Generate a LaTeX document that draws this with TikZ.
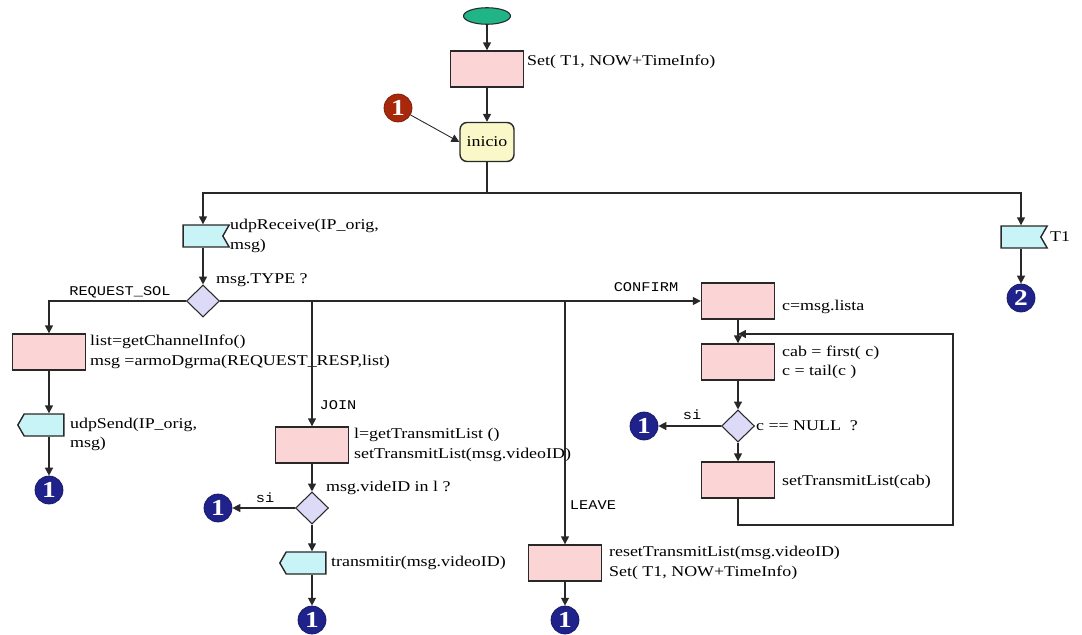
\documentclass[tikz,border=0pt]{standalone}
\usepackage{fontspec}
\setmainfont{Liberation Serif}[FakeStretch=1.2]
\newfontfamily\tagfont{Liberation Mono}[FakeStretch=1.15]
\usetikzlibrary{positioning, arrows.meta, shapes.geometric, shapes.symbols, calc}

\definecolor{procfill}{RGB}{251,213,213}
\definecolor{askfill}{RGB}{220,218,246}
\definecolor{sigfill}{RGB}{200,244,248}
\definecolor{startfill}{RGB}{32,180,135}
\definecolor{initfill}{RGB}{250,248,200}
\definecolor{jumpblue}{RGB}{32,34,140}
\definecolor{jumpred}{RGB}{168,40,12}
\definecolor{edge}{RGB}{40,40,40}

\begin{document}
\begin{tikzpicture}[
        x=0.02cm, y=-0.02cm,
        every node/.style={font=\fontsize{8.5}{11}\selectfont},
        proc/.style={draw=edge, line width=0.8pt, fill=procfill, minimum width=1.46cm, minimum height=0.72cm, inner sep=0pt},
        decide/.style={diamond, draw=edge, line width=0.6pt, fill=askfill, minimum width=0.66cm, minimum height=0.64cm, inner sep=0pt},
        recv/.style={signal, signal from=east, signal to=nowhere, signal pointer angle=120, draw=edge, line width=0.8pt, fill=sigfill, minimum width=0.92cm, minimum height=0.44cm, inner sep=0pt},
        send/.style={signal, signal to=west, signal from=nowhere, signal pointer angle=120, draw=edge, line width=0.8pt, fill=sigfill, minimum width=0.92cm, minimum height=0.44cm, inner sep=0pt},
        jump/.style={circle, fill=jumpblue, draw=jumpblue!70!black, minimum size=0.56cm, inner sep=0pt, text=white, font=\fontsize{13}{13}\bfseries\selectfont},
        arrow/.style={-{Triangle[length=4.5pt,width=4.5pt]}, line width=0.8pt, draw=edge},
        line/.style={line width=0.8pt, draw=edge},
        txt/.style={align=left, inner sep=1pt},
        tag/.style={font=\tagfont\fontsize{7.6}{9}\selectfont, inner sep=1pt}
    ]
    \useasboundingbox (0,0) rectangle (1082,635);

    % Start
    \node[ellipse, draw=edge, line width=0.6pt, fill=startfill, minimum width=0.94cm, minimum height=0.32cm] (start) at (487,16) {};
    \node[proc] (settimer) at (487,69) {};
    \node[txt, anchor=west] (settimerlbl) at (525,62) {Set( T1, NOW+TimeInfo)};
    \node[draw=edge, line width=0.8pt, fill=initfill, rounded corners=4pt, minimum width=1.08cm, minimum height=0.78cm, inner sep=0pt] (inicio) at (487,142) {inicio};
    \node[jump, fill=jumpred, draw=jumpred!70!black] (back1) at (398,108) {1};

    % Inputs
    \node[recv] (rcv) at (203,236) {};
    \node[txt, anchor=west] (rcvlbl) at (228,236) {udpReceive(IP\_orig,\\msg)};
    \node[recv] (timeout) at (1021,237) {};
    \node[txt, anchor=west] (timeoutlbl) at (1048,237) {T1};
    \node[jump] (jmp2) at (1021,298) {2};

    % Message type
    \node[decide] (typechk) at (203,301) {};
    \node[txt, anchor=west] (typechklbl) at (214,280) {msg.TYPE ?};
    \node[tag] (reqtag) at (120,292) {REQUEST\_SOL};
    \node[tag] (jointag) at (338,405) {JOIN};
    \node[tag] (leavetag) at (593,505) {LEAVE};
    \node[tag] (conftag) at (646,287) {CONFIRM};

    % REQUEST_SOL
    \node[proc] (chaninfo) at (49,352) {};
    \node[txt, anchor=west] (chaninfolbl) at (88,352) {list=getChannelInfo()\\msg =armoDgrma(REQUEST\_RESP,list)};
    \node[send] (udpsend) at (44,425) {};
    \node[txt, anchor=north west] (udpsendlbl) at (68,416) {udpSend(IP\_orig,\\msg)};
    \node[jump] (jmpA) at (49,490) {1};

    % JOIN
    \node[proc] (gettx) at (312,445) {};
    \node[txt, anchor=west] (gettxlbl) at (352,445) {l=getTransmitList ()\\setTransmitList(msg.videoID)};
    \node[decide] (vidchk) at (312,508) {};
    \node[txt, anchor=west] (vidchklbl) at (324,488) {msg.videID in l ?};
    \node[jump] (jmpB) at (218,508) {1};
    \node[tag] (sitagB) at (265,498) {si};
    \node[send] (xmit) at (306,563) {};
    \node[txt, anchor=west] (xmitlbl) at (329,563) {transmitir(msg.videoID)};
    \node[jump] (jmpC) at (312,620) {1};

    % LEAVE
    \node[proc] (resettx) at (565,563) {};
    \node[txt, anchor=west] (resettxlbl) at (607,563) {resetTransmitList(msg.videoID)\\Set( T1, NOW+TimeInfo)};
    \node[jump] (jmpD) at (565,620) {1};

    % CONFIRM
    \node[proc] (takelist) at (738,301) {};
    \node[txt, anchor=west] (takelistlbl) at (780,307) {c=msg.lista};
    \node[proc] (nextitem) at (738,362) {};
    \node[txt, anchor=west] (nextitemlbl) at (780,362) {cab = first( c)\\c = tail(c )};
    \node[decide] (nullchk) at (738,426) {};
    \node[txt, anchor=west] (nullchklbl) at (754,426) {c == NULL\ \ ?};
    \node[jump] (jmpE) at (644,426) {1};
    \node[tag] (sitagE) at (692,415) {si};
    \node[proc] (setcab) at (738,480) {};
    \node[txt, anchor=west] (setcablbl) at (780,482) {setTransmitList(cab)};

    % Connectors
    \draw[arrow] (start) -- (settimer);
    \draw[arrow] (settimer) -- (inicio);
    \draw[arrow, line width=0.5pt] (back1) -- (inicio.west);
    \coordinate (split) at (487,193);
    \draw[line] (inicio.south) -- (split);
    \draw[arrow] (split) -| (rcv.north);
    \draw[arrow] (split) -| (timeout.north);
    \draw[arrow] (timeout) -- (jmp2);
    \draw[arrow] (rcv) -- (typechk);

    \draw[arrow] (typechk.west) -| (chaninfo.north);
    \draw[arrow] (typechk.east) -- (takelist.west);
    \draw[arrow] (gettx.north |- typechk.east) -- (gettx.north);
    \draw[arrow] (resettx.north |- typechk.east) -- (resettx.north);

    \draw[arrow] (chaninfo) -- (chaninfo.south |- udpsend.north);
    \draw[arrow] (chaninfo.south |- udpsend.south) -- (jmpA);

    \draw[arrow] (gettx) -- (vidchk);
    \draw[arrow] (vidchk) -- (jmpB);
    \draw[arrow] (vidchk.south) -- (vidchk.south |- xmit.north);
    \draw[arrow] (vidchk.south |- xmit.south) -- (jmpC);

    \draw[arrow] (resettx) -- (jmpD);

    \draw[arrow] (takelist) -- (nextitem);
    \draw[arrow] (nextitem) -- (nullchk);
    \draw[arrow] (nullchk) -- (jmpE);
    \draw[arrow] (nullchk) -- (setcab);
    \coordinate (loopin) at (738,334);
    \coordinate (loopturn) at (953,525);
    \draw[arrow] (setcab.south) |- (loopturn) |- (loopin);

\end{tikzpicture}
\end{document}
